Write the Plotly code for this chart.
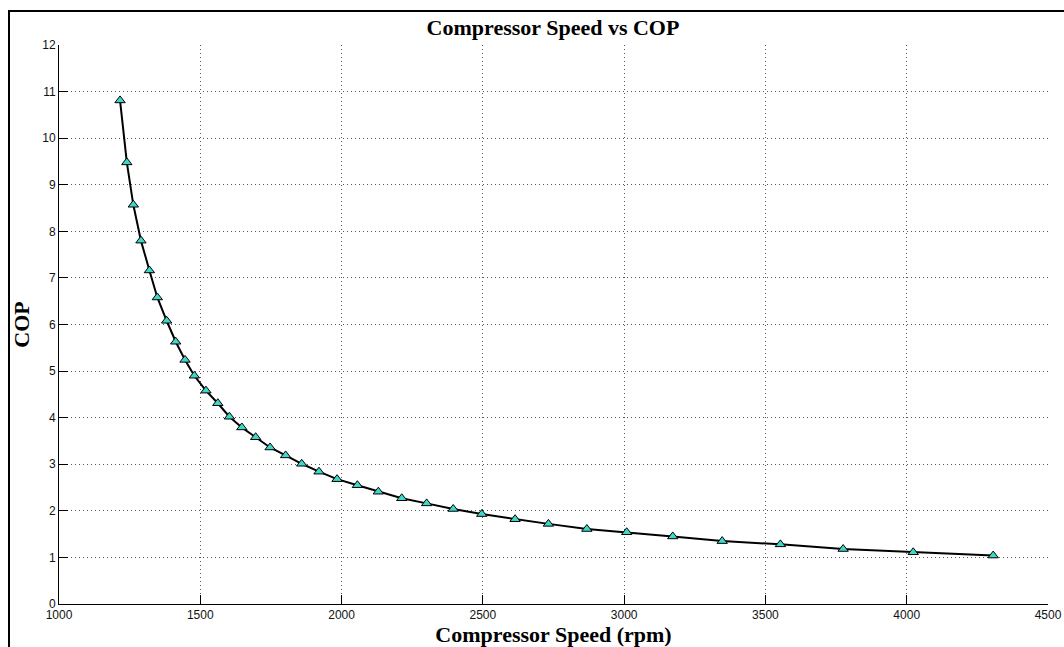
import plotly.graph_objects as go

speed_rpm = [1216, 1240, 1263, 1290, 1320, 1348, 1381, 1413, 1446, 1479, 1520, 1562,
             1603, 1647, 1696, 1747, 1802, 1859, 1920, 1984, 2056, 2130, 2213, 2301,
             2395, 2496, 2614, 2732, 2868, 3009, 3172, 3347, 3553, 3775, 4023, 4306]
cop = [10.81, 9.48, 8.57, 7.80, 7.16, 6.58, 6.08, 5.63, 5.24, 4.90, 4.58, 4.31,
       4.02, 3.79, 3.58, 3.36, 3.19, 3.01, 2.84, 2.68, 2.55, 2.41, 2.27, 2.16,
       2.04, 1.93, 1.82, 1.72, 1.61, 1.54, 1.45, 1.35, 1.28, 1.18, 1.11, 1.04]

x_ticks = [1000, 1500, 2000, 2500, 3000, 3500, 4000, 4500]
y_ticks = list(range(0, 13))

fig = go.Figure()
fig.add_trace(go.Scatter(
    x=speed_rpm, y=cop, mode="lines+markers",
    line=dict(color="black", width=2),
    marker=dict(symbol="triangle-up", size=9, color="#3ED8C8",
                line=dict(color="black", width=1)),
    showlegend=False,
))

tickfont = dict(family="Liberation Sans, Arial, sans-serif", size=12, color="#111")
serif_bold = "Liberation Serif, Times New Roman, serif"

axis_common = dict(ticks="inside", ticklen=9, tickcolor="black", tickwidth=1,
                   showline=True, linecolor="black", linewidth=1,
                   showgrid=True, gridcolor="#555", griddash="1px,3px", gridwidth=1,
                   zeroline=False, tickfont=tickfont, automargin=False)

fig.update_layout(
    width=1064, height=647,
    margin=dict(l=59, r=16, t=45, b=43),
    paper_bgcolor="white", plot_bgcolor="white",
    title=dict(text="<b>Compressor Speed vs COP</b>", x=553 / 1064, xanchor="center",
               y=1 - 27 / 647, yanchor="middle",
               font=dict(family=serif_bold, size=22, color="black")),
    xaxis=dict(range=[1000, 4500], tickvals=x_ticks, **axis_common,
               title=dict(text="<b>Compressor Speed (rpm)</b>", standoff=3,
                          font=dict(family=serif_bold, size=22, color="black"))),
    yaxis=dict(range=[0, 12], tickvals=y_ticks, **axis_common,
               title=dict(text="<b>COP</b>", standoff=6,
                          font=dict(family=serif_bold, size=22, color="black"))),
    shapes=[dict(type="rect", xref="paper", yref="paper",
                 x0=-50 / 989, x1=1.2, y0=-0.3, y1=593 / 559,
                 line=dict(color="black", width=2), layer="above")],
)

fig.write_html("out.html", config={"displayModeBar": False},
               post_script="document.body.style.margin='0px';")
